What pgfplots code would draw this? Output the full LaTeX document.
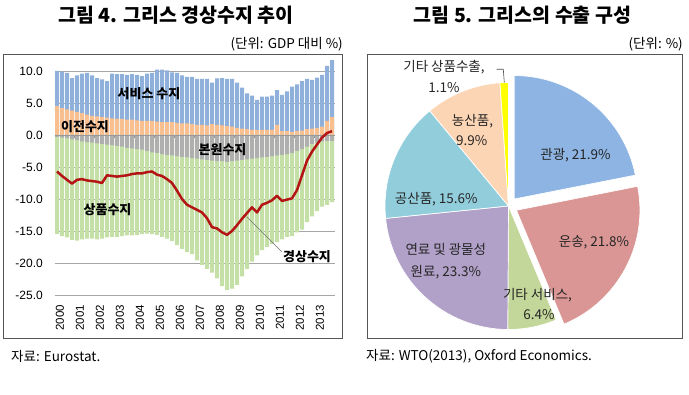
\documentclass[border=0pt]{standalone}
\usepackage{fontspec}
\setmainfont{Noto Sans CJK KR}
\newfontfamily\titlefont{Noto Sans CJK KR Black}
\newfontfamily\lat{Liberation Sans}
\usepackage{pgfplots}
\pgfplotsset{compat=1.18}
\usepackage{pgfplotstable}

\definecolor{svB}{HTML}{8FB0DA}
\definecolor{trO}{HTML}{F9BF8F}
\definecolor{incG}{HTML}{AFAFAF}
\definecolor{gdG}{HTML}{C4E0A6}
\definecolor{caR}{HTML}{B41414}
\definecolor{frameC}{HTML}{555555}
\definecolor{pA}{HTML}{8DB4E2}
\definecolor{pB}{HTML}{DA9694}
\definecolor{pC}{HTML}{C4D79B}
\definecolor{pD}{HTML}{B1A0C7}
\definecolor{pE}{HTML}{92CDDC}
\definecolor{pF}{HTML}{FCD5B4}
\definecolor{pG}{HTML}{FFFF00}
\definecolor{txt}{HTML}{262626}

\pgfplotstableread{
q sv tr inc gd ca
1 5.5 4.5 -0.3 -15.2 -5.7
2 5.7 4.2 -0.4 -15.4 -6.4
3 5.7 4.0 -0.5 -15.5 -7.0
4 5.1 3.8 -0.7 -15.7 -7.6
5 5.7 3.6 -0.8 -15.7 -7.0
6 6.2 3.4 -1.0 -15.3 -6.9
7 6.5 3.2 -1.1 -15.1 -7.1
8 6.3 3.0 -1.2 -15.0 -7.2
9 6.0 2.9 -1.3 -15.0 -7.3
10 5.9 2.8 -1.4 -14.8 -7.5
11 5.7 2.7 -1.5 -14.5 -6.3
12 7.0 2.6 -1.6 -14.3 -6.4
13 7.0 2.5 -1.7 -14.2 -6.5
14 7.0 2.5 -1.8 -14.0 -6.4
15 7.0 2.4 -2.0 -13.7 -6.3
16 7.1 2.4 -2.1 -13.6 -6.1
17 7.1 2.3 -2.2 -13.4 -6.0
18 7.0 2.2 -2.3 -13.2 -6.0
19 7.4 2.2 -2.5 -12.9 -5.8
20 7.5 2.2 -2.7 -12.8 -5.7
21 8.1 2.1 -2.8 -12.8 -6.2
22 8.2 2.0 -3.0 -12.9 -6.4
23 8.1 2.0 -3.1 -13.1 -6.9
24 7.8 2.0 -3.2 -13.4 -7.5
25 7.8 1.9 -3.3 -13.9 -8.7
26 7.5 1.8 -3.4 -14.4 -10.0
27 7.3 1.8 -3.5 -14.8 -10.9
28 7.4 1.7 -3.6 -15.0 -11.3
29 7.15 1.6 -3.7 -15.9 -11.7
30 7.15 1.6 -3.8 -16.5 -12.1
31 7.25 1.5 -3.9 -17.0 -13.0
32 6.5 1.7 -4.0 -17.5 -14.4
33 7.25 1.6 -4.1 -18.3 -14.6
34 7.4 1.5 -4.1 -19.5 -15.2
35 7.35 1.4 -4.2 -20.0 -15.6
36 7.45 1.3 -4.1 -19.9 -15.0
37 7.1 1.1 -4.0 -19.4 -14.1
38 6.4 1.0 -3.9 -18.2 -13.1
39 5.6 0.9 -3.8 -17.1 -12.2
40 5.35 0.8 -3.7 -16.1 -11.3
41 4.7 0.8 -3.6 -15.2 -12.1
42 5.2 0.8 -3.5 -14.5 -10.9
43 5.2 0.8 -3.4 -14.1 -10.6
44 5.35 0.8 -3.3 -13.7 -10.2
45 5.4 1.6 -3.2 -13.5 -9.5
46 5.65 0.6 -3.1 -13.2 -10.3
47 6.2 0.6 -3.0 -12.9 -10.1
48 7.05 0.5 -2.8 -13.0 -9.9
49 7.3 0.6 -2.5 -12.7 -8.6
50 7.7 0.7 -2.2 -12.6 -6.3
51 7.85 0.9 -1.8 -11.8 -4.0
52 7.6 1.0 -1.4 -11.3 -2.6
53 7.85 1.1 -1.2 -10.7 -1.5
54 8.1 1.3 -1.0 -10.2 -0.4
55 8.6 2.2 -0.9 -10.0 0.3
56 8.9 2.8 -0.9 -9.6 0.6
}\gr

\def\pieslice#1/#2/#3\relax{%
  \pgfmathsetmacro\pa{\pieangle}%
  \pgfmathsetmacro\pb{\pieangle-3.6*#1}%
  \pgfmathsetmacro\pox{#3*cos((\pa+\pb)/2)}%
  \pgfmathsetmacro\poy{#3*sin((\pa+\pb)/2)}%
  \edef\temp{\noexpand\fill[#2, draw=white, line width=0.7pt] (axis cs:\pox,\poy) -- ++(\pa:123.5pt) arc[start angle=\pa, end angle=\pb, radius=123.5pt] -- cycle;}%
  \temp
  \global\let\pieangle\pb
}

\begin{document}
\begin{tikzpicture}[x=1pt,y=1pt]
\fill[white] (0,0) rectangle (689,395);

% titles
\node[font=\titlefont\fontsize{19.5}{22}\selectfont] at (176,380) {그림 4. 그리스 경상수지 추이};
\node[font=\titlefont\fontsize{19.5}{22}\selectfont] at (522.5,380) {그림 5. 그리스의 수출 구성};
\node[font=\fontsize{13.5}{15}\selectfont, anchor=east, inner sep=0pt] at (343,351) {(단위: GDP 대비 \%)};
\node[font=\fontsize{13.5}{15}\selectfont, anchor=east, inner sep=0pt] at (683,351) {(단위: \%)};
\node[font=\fontsize{13.5}{15}\selectfont, anchor=west, inner sep=0pt] at (11,39) {자료: Eurostat.};
\node[font=\fontsize{13.5}{15}\selectfont, anchor=west, inner sep=0pt] at (366,39) {자료: WTO(2013), Oxford Economics.};

% frames
\draw[frameC, line width=0.9pt] (3,57) rectangle (342,341);
\draw[frameC, line width=0.9pt] (367,57) rectangle (682,341);

\begin{axis}[
  anchor=south west, at={(54.5pt,100pt)},
  x=5pt, y=6.4pt,
  xmin=0.5, xmax=56.5, ymin=-25, ymax=12,
  axis line style={draw=none},
  major tick length=0pt,
  ytick={-25,-20,-15,-10,-5,0,5,10},
  yticklabels={-25.0,-20.0,-15.0,-10.0,-5.0,0.0,5.0,10.0},
  xtick={1.6,5.6,9.6,13.6,17.6,21.6,25.6,29.6,33.6,37.6,41.6,45.6,49.6,53.6},
  xticklabels={2000,2001,2002,2003,2004,2005,2006,2007,2008,2009,2010,2011,2012,2013},
  xticklabel style={rotate=90, anchor=east, inner sep=0pt, font=\lat\fontsize{11.5}{12}\selectfont},
  xticklabel shift=10pt,
  yticklabel style={anchor=east, inner sep=0pt, font=\lat\fontsize{12}{12}\selectfont},
  yticklabel shift=11.5pt,
  ymajorgrids, grid style={draw=black!35, line width=0.9pt},
  clip=false,
]
\addplot[ybar, bar width=0.8, bar shift=0pt, fill=svB, draw=none] table[x=q, y expr=\thisrow{sv}+\thisrow{tr}] {\gr};
\addplot[ybar, bar width=0.8, bar shift=0pt, fill=trO, draw=none] table[x=q, y=tr] {\gr};
\addplot[ybar, bar width=0.8, bar shift=0pt, fill=gdG, draw=none] table[x=q, y expr=\thisrow{inc}+\thisrow{gd}] {\gr};
\addplot[ybar, bar width=0.8, bar shift=0pt, fill=incG, draw=none] table[x=q, y=inc] {\gr};
\addplot[draw=black!40, line width=0.8pt] coordinates {(0.5,0) (56.5,0)};
\addplot[ycomb, draw=black!40, line width=0.6pt, mark=none] coordinates {(4.5,-0.45) (8.5,-0.45) (12.5,-0.45) (16.5,-0.45) (20.5,-0.45) (24.5,-0.45) (28.5,-0.45) (32.5,-0.45) (36.5,-0.45) (40.5,-0.45) (44.5,-0.45) (48.5,-0.45) (52.5,-0.45)};
\addplot[draw=caR, line width=2.5pt, line join=round, mark=none] table[x=q, y=ca] {\gr};
\draw[black!55, line width=0.5pt] (axis cs:38.94,-12.76) -- (axis cs:45.94,-18.23);
\node[font=\bfseries\fontsize{13}{14}\selectfont] at (axis cs:19.4,6.41) {서비스 수지};
\node[font=\bfseries\fontsize{13}{14}\selectfont] at (axis cs:6.6,1.33) {이전수지};
\node[font=\bfseries\fontsize{13}{14}\selectfont] at (axis cs:34.1,-2.34) {본원수지};
\node[font=\bfseries\fontsize{13}{14}\selectfont] at (axis cs:11.1,-11.72) {상품수지};
\node[font=\bfseries\fontsize{13}{14}\selectfont] at (axis cs:51.0,-19.06) {경상수지};
\end{axis}

\begin{axis}[
  anchor=south west, at={(378.5pt,59pt)},
  x=1pt, y=1pt, xmin=-130, xmax=130, ymin=-130, ymax=130,
  hide axis, clip=false,
]
\addplot[draw=none, mark=none] coordinates {(0,0)};
\gdef\pieangle{90}
\pgfplotsforeachungrouped \entry in {21.9/pA/9,21.8/pB/9,6.4/pC/0,23.3/pD/0,15.6/pE/0,9.9/pF/0,1.1/pG/0}{%
  \expandafter\pieslice\entry\relax
}
\end{axis}

% pie labels
\begin{scope}[every node/.style={font=\fontsize{13.5}{15}\selectfont, text=txt, inner sep=0pt}]
\node at (575.5,240) {관광, 21.9\%};
\node at (594,152.5) {운송, 21.8\%};
\node at (537.5,100) {기타 서비스,};
\node at (539,80) {6.4\%};
\node at (445.8,146) {연료 및 광물성};
\node at (445.8,122.5) {원료, 23.3\%};
\node at (436.3,196) {공산품, 15.6\%};
\node at (472.5,274.2) {농산품,};
\node at (471.7,254.2) {9.9\%};
\node at (444,327.5) {기타 상품수출,};
\node at (444,307.5) {1.1\%};
\end{scope}
\draw[black!70, line width=0.6pt] (496.7,325.7) -- (503.3,325.7) -- (504.3,312.5);
\end{tikzpicture}
\end{document}
